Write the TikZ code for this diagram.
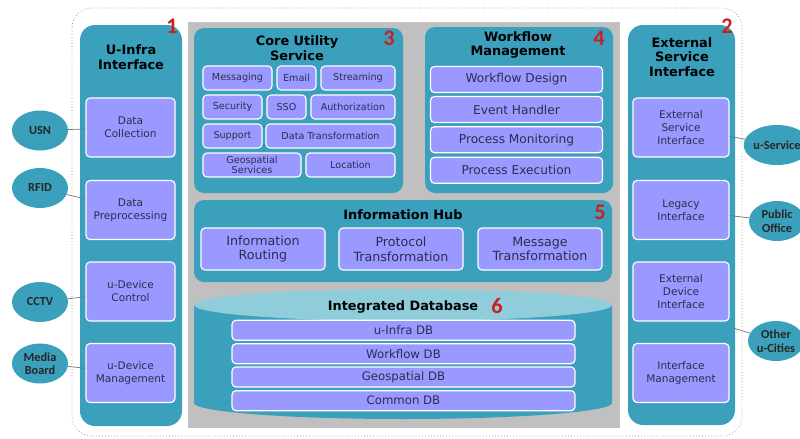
\documentclass[tikz,border=0pt]{standalone}
\usepackage{fontspec}
\setmainfont{DejaVu Sans}
\newfontfamily\labelfont{Carlito}
\usetikzlibrary{shapes.geometric}

\newlength\unitpx
\setlength\unitpx{0.3mm}

\definecolor{panelteal}{RGB}{58,160,188}
\definecolor{dbtop}{RGB}{143,205,218}
\definecolor{itemblue}{RGB}{153,153,255}
\definecolor{backgray}{RGB}{192,192,192}
\definecolor{itemtext}{RGB}{45,45,80}
\definecolor{numred}{RGB}{205,30,30}

\tikzset{
  panel/.style={fill=panelteal, rounded corners=4.5mm, inner sep=0pt},
  item/.style={fill=itemblue, draw=white, line width=1pt, rounded corners=1.2mm,
    inner sep=0pt, align=center, text=itemtext},
  title/.style={font=\fontsize{11}{12.5}\selectfont\bfseries, align=center},
  source/.style={ellipse, fill=panelteal, inner sep=0pt, align=center,
    font=\labelfont\fontsize{10.5}{11.5}\selectfont\bfseries, text=black!85},
  num/.style={font=\labelfont\fontsize{19}{19}\selectfont\bfseries, text=numred},
  link/.style={draw=black!55, line width=0.6pt}
}

\begin{document}
\begin{tikzpicture}[x=0.3mm, y=-0.3mm]
  \useasboundingbox (0,0) rectangle (800,438);

  % frame and backdrop
  \draw[black!45, dotted, line width=0.6pt, rounded corners=6mm] (72,8) rectangle (742,436);
  \fill[backgray] (188,22) rectangle (620,428);

  % panels
  \begin{scope}[every node/.style={panel}]
    \node[minimum width=102\unitpx, minimum height=401\unitpx] (uinfra) at (131,225.5) {};
    \node[minimum width=107\unitpx, minimum height=400\unitpx] (extsrv) at (681.5,225) {};
    \node[rounded corners=3mm, minimum width=209\unitpx, minimum height=165\unitpx] (core) at (298.5,110.5) {};
    \node[rounded corners=3mm, minimum width=188\unitpx, minimum height=166\unitpx] (wf) at (519,110) {};
    \node[rounded corners=3mm, minimum width=418\unitpx, minimum height=82\unitpx] (hub) at (403,241) {};
  \end{scope}

  % database cylinder
  \fill[panelteal] (194,305) -- (194,403) arc[start angle=180, end angle=0, x radius=209, y radius=16] -- (612,305) -- cycle;
  \fill[dbtop] (403,305) ellipse[x radius=209, y radius=16];

  % titles
  \begin{scope}[every node/.style={title}]
    \node (t1) at (131,57) {U-Infra\\Interface};
    \node (t2) at (682,57) {External\\Service\\Interface};
    \node (t3) at (297,48) {Core Utility\\Service};
    \node (t4) at (518,45) {Workflow\\Management};
    \node (t5) at (403,215) {Information Hub};
    \node (t6) at (403,307) {Integrated Database};
  \end{scope}

  % numbers
  \begin{scope}[every node/.style={num}]
    \node (n1) at (172,26) {1};
    \node (n2) at (727,26) {2};
    \node (n3) at (389,38) {3};
    \node (n4) at (599,38) {4};
    \node (n5) at (600,212) {5};
    \node (n6) at (497,306) {6};
  \end{scope}

  % side boxes
  \begin{scope}[every node/.style={item, minimum height=59\unitpx,
      font=\fontsize{9}{11}\selectfont}]
    \node[minimum width=89\unitpx] (dc)  at (130.5,127.5) {Data\\Collection};
    \node[minimum width=89\unitpx] (dp)  at (130.5,210)   {Data\\Preprocessing};
    \node[minimum width=89\unitpx] (udc) at (130.5,291.5) {u-Device\\Control};
    \node[minimum width=89\unitpx] (udm) at (130.5,373)   {u-Device\\Management};
    \node[minimum width=96\unitpx] (esi) at (681,127.5) {External\\Service\\Interface};
    \node[minimum width=96\unitpx] (li)  at (681,210)   {Legacy\\Interface};
    \node[minimum width=96\unitpx] (edi) at (681,291.5) {External\\Device\\Interface};
    \node[minimum width=96\unitpx] (im)  at (681,373)   {Interface\\Management};
  \end{scope}

  % core utility service
  \begin{scope}[every node/.style={item, minimum height=24\unitpx,
      font=\fontsize{8.2}{8.6}\selectfont}]
    \node[minimum width=69\unitpx]  (msg)  at (237.5,78)  {Messaging};
    \node[minimum width=39\unitpx]  (mail) at (296.5,78)  {Email};
    \node[minimum width=74\unitpx]  (strm) at (358,78)    {Streaming};
    \node[minimum width=59\unitpx]  (sec)  at (232.5,107) {Security};
    \node[minimum width=39\unitpx]  (sso)  at (286.5,107) {SSO};
    \node[minimum width=84\unitpx]  (auth) at (353,107)   {Authorization};
    \node[minimum width=59\unitpx]  (sup)  at (232.5,136) {Support};
    \node[minimum width=129\unitpx] (dtr)  at (330.5,136) {Data Transformation};
    \node[minimum width=98\unitpx]  (geo)  at (252,165)   {Geospatial\\Services};
    \node[minimum width=89\unitpx]  (loc)  at (350.5,165) {Location};
  \end{scope}

  % workflow management
  \begin{scope}[every node/.style={item, minimum width=172\unitpx, minimum height=26\unitpx,
      font=\fontsize{10.4}{11}\selectfont}]
    \node (wd) at (516.5,79.5)  {Workflow Design};
    \node (eh) at (516.5,109.5) {Event Handler};
    \node (pm) at (516.5,139.7) {Process Monitoring};
    \node (pe) at (516.5,170.3) {Process Execution};
  \end{scope}

  % information hub
  \begin{scope}[every node/.style={item, minimum width=124\unitpx, minimum height=42\unitpx,
      font=\fontsize{10.8}{12.5}\selectfont}]
    \node (ir) at (263,249) {Information\\Routing};
    \node (pt) at (401,249) {Protocol\\Transformation};
    \node (mt) at (540,249) {Message\\Transformation};
  \end{scope}

  % databases
  \begin{scope}[every node/.style={item, minimum width=343\unitpx, minimum height=20\unitpx,
      font=\fontsize{10}{11}\selectfont}]
    \node (db1) at (403.5,330.3) {u-Infra DB};
    \node (db2) at (403.5,353.7) {Workflow DB};
    \node (db3) at (403.5,377)   {Geospatial DB};
    \node (db4) at (403.5,400.7) {Common DB};
  \end{scope}

  % outside sources
  \begin{scope}[every node/.style={source, minimum width=56\unitpx, minimum height=40\unitpx}]
    \node (usn)    at (40,130.5) {USN};
    \node (rfid)   at (40,188)   {RFID};
    \node (cctv)   at (40,302)   {CCTV};
    \node (media)  at (40,363.5) {Media\\Board};
    \node (usrv)   at (777,145)  {u-Service};
    \node (pub)    at (777,221)  {Public\\Office};
    \node (cities) at (776,341)  {Other\\u-Cities};
  \end{scope}
  \coordinate (cityend) at (733,328);

  \begin{scope}[every path/.style={link}]
    \path (usn)   edge (dc);
    \path (rfid)  edge (dp);
    \path (cctv)  edge (udc);
    \path (media) edge (udm);
    \path (esi)   edge (usrv);
    \path (li)    edge (pub);
    \path (cityend) edge (cities);
  \end{scope}

\end{tikzpicture}
\end{document}
